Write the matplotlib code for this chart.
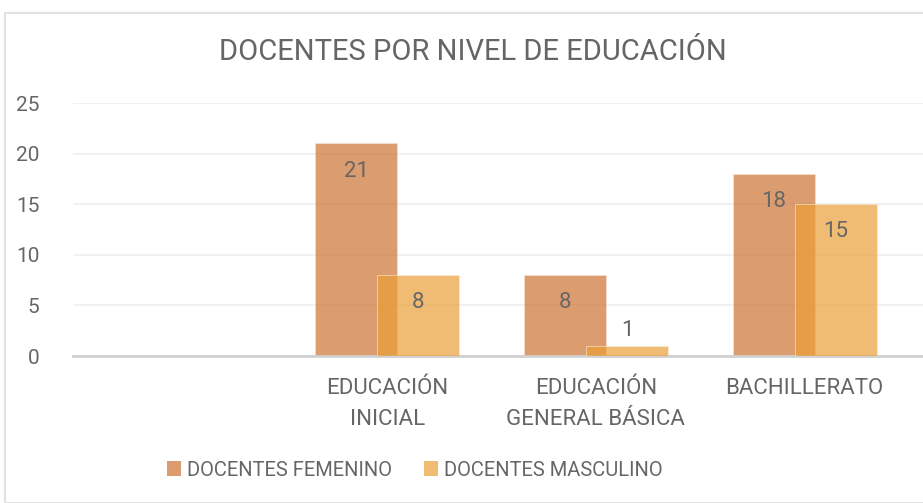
import matplotlib.pyplot as plt
import matplotlib.patches as patches
import numpy as np

categorias = ['', 'EDUCACIÓN\nINICIAL', 'EDUCACIÓN\nGENERAL BÁSICA', 'BACHILLERATO']
femenino = [0, 21, 8, 18]
masculino = [0, 8, 1, 15]
series = ['DOCENTES FEMENINO', 'DOCENTES MASCULINO']

gris = '#666666'
col_fem = '#CD7233'
col_masc = '#EA9F36'

plt.rcParams['font.family'] = ['Roboto', 'DejaVu Sans']

fig = plt.figure(figsize=(9.23, 5.03), dpi=100)
# marco gris claro alrededor del grafico
fig.patches.append(patches.Rectangle((5/923, 0.0), 1.0, 1 - 13/503, transform=fig.transFigure,
                                     fill=False, edgecolor='#E2E2E2', linewidth=1.5))

ax = fig.add_axes([73/923, 147/503, 1 - 73/923, 253/503])

x = np.arange(len(categorias))
w = 0.393
d = 0.149

b1 = ax.bar(x - d, femenino, w, color=col_fem, alpha=0.7, edgecolor='#F6E3D6', linewidth=0.6, zorder=2)
b2 = ax.bar(x + d, masculino, w, color=col_masc, alpha=0.7, edgecolor='#FBEBD3', linewidth=0.6, zorder=3)

# etiquetas de valor
for bars, vals in [(b1, femenino), (b2, masculino)]:
    for rect, v in zip(bars, vals):
        if v == 0:
            continue
        cx = rect.get_x() + rect.get_width() / 2
        dy = 11 if v < 3 else -20
        ax.annotate(str(v), (cx, v), xytext=(0, dy), textcoords='offset points',
                    ha='center', va='center', fontsize=16, color=gris, zorder=5)

ax.set_xlim(-0.505, 3.567)
ax.set_ylim(0, 25)
ax.set_yticks([0, 5, 10, 15, 20, 25])
ax.set_xticks(x)
ax.set_xticklabels(categorias, linespacing=1.6)
ax.tick_params(axis='x', length=0, pad=16, labelsize=16, labelcolor=gris)
ax.tick_params(axis='y', length=0, pad=24, labelsize=15, labelcolor=gris)
for lab in ax.get_yticklabels():
    lab.set_horizontalalignment('right')

ax.grid(axis='y', color='#EFEFEF', linewidth=1.2, zorder=0)
ax.set_axisbelow(True)
for s in ['top', 'right', 'left']:
    ax.spines[s].set_visible(False)
ax.spines['bottom'].set_color('#D0D0D0')
ax.spines['bottom'].set_linewidth(2)

fig.text(473/923, 1 - 52/503, 'DOCENTES POR NIVEL DE EDUCACIÓN', ha='center', va='center',
         fontsize=21, color=gris)

handles = [patches.Patch(facecolor=col_fem, alpha=0.7), patches.Patch(facecolor=col_masc, alpha=0.7)]
fig.legend(handles, series, loc='center', bbox_to_anchor=(415/923, 1 - 470/503), ncol=2,
           frameon=False, fontsize=14.5, labelcolor=gris, handlelength=0.7, handleheight=0.7,
           handletextpad=0.3, columnspacing=1.6)

fig.savefig('out.png', dpi=100)
